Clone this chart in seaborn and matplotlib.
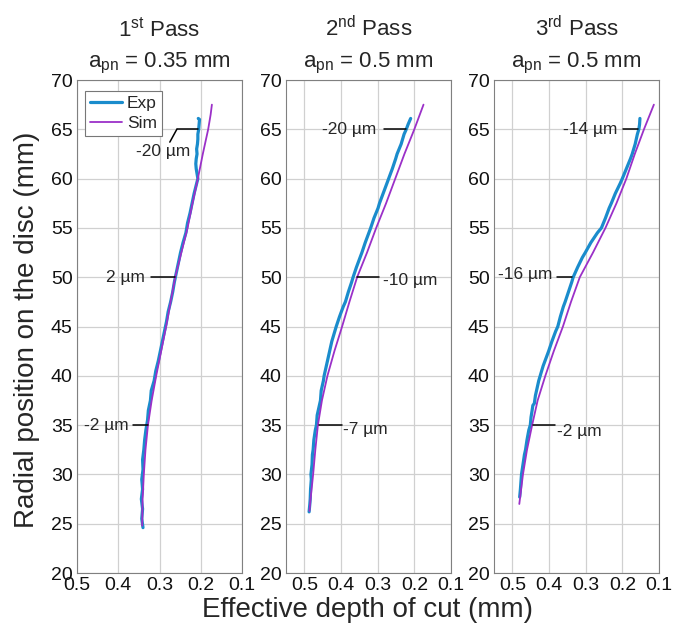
"""Effective depth of cut vs radial position, three passes (Exp vs Sim)."""
import matplotlib
matplotlib.use("Agg")
import matplotlib.pyplot as plt
import pandas as pd
import seaborn as sns

# ---- data ------------------------------------------------------------------
pass_titles = ["1$^{\\mathrm{st}}$ Pass", "2$^{\\mathrm{nd}}$ Pass", "3$^{\\mathrm{rd}}$ Pass"]
pass_depths = ["0.35 mm", "0.5 mm", "0.5 mm"]

# pass 1
exp1_y = [24.6, 25.5, 26.5, 27.5, 28.5, 29.5, 30.5, 31.5, 32.5, 33.5, 34.5, 35.5,
          36.5, 37.5, 38.5, 39.5, 40.5, 41.5, 42.5, 43.5, 44.5, 45.5, 46.5, 47.5,
          48.5, 49.5, 50.5, 51.5, 52.5, 53.5, 54.5, 55.5, 56.5, 57.5, 58.5, 59.5,
          60.0, 60.5, 61.0, 61.5, 62.0, 62.5, 63.0, 63.5, 64.0, 64.5, 65.0, 65.5,
          66.0, 66.1]
exp1_x = [0.340, 0.343, 0.341, 0.344, 0.341, 0.343, 0.340, 0.341, 0.338, 0.336, 0.333, 0.329,
          0.327, 0.322, 0.320, 0.313, 0.309, 0.303, 0.298, 0.293, 0.288, 0.283, 0.279, 0.273,
          0.268, 0.264, 0.259, 0.254, 0.249, 0.243, 0.236, 0.232, 0.226, 0.221, 0.216, 0.210,
          0.207, 0.209, 0.211, 0.212, 0.211, 0.209, 0.210, 0.208, 0.207, 0.207, 0.205, 0.204,
          0.203, 0.206]
sim1_y = [24.8, 27.5, 30, 32.5, 35, 37.5, 40, 42.5, 45, 47.5, 50, 52.5, 55, 57.5,
          60, 62.5, 65, 66.5, 67.5]
sim1_x = [0.342, 0.341, 0.338, 0.334, 0.328, 0.319, 0.308, 0.296, 0.284, 0.273,
          0.262, 0.247, 0.232, 0.220, 0.207, 0.195, 0.182, 0.176, 0.173]

# pass 2
exp2_y = [26.2, 27.0, 27.5, 28.5, 29.5, 30.0, 31.0, 32.0, 32.5, 33.5, 34.5, 35.0,
          36.0, 37.0, 37.5, 38.5, 39.5, 40.0, 41.0, 42.0, 42.5, 43.5, 44.5, 45.0,
          46.0, 47.0, 47.5, 48.5, 49.5, 50.0, 51.0, 52.0, 52.5, 53.5, 54.5, 55.0,
          56.0, 57.0, 57.5, 58.5, 59.5, 60.0, 61.0, 62.0, 62.5, 63.5, 64.5, 65.0,
          65.5, 66.1]
exp2_x = [0.487, 0.485, 0.484, 0.483, 0.481, 0.482, 0.479, 0.478, 0.476, 0.474, 0.470, 0.467,
          0.465, 0.459, 0.456, 0.454, 0.448, 0.446, 0.440, 0.434, 0.431, 0.425, 0.417, 0.413,
          0.404, 0.394, 0.388, 0.380, 0.371, 0.367, 0.358, 0.348, 0.343, 0.334, 0.324, 0.319,
          0.310, 0.299, 0.295, 0.285, 0.275, 0.270, 0.260, 0.251, 0.247, 0.236, 0.228, 0.222,
          0.217, 0.210]
sim2_y = [26.3, 27.5, 30, 32.5, 35, 37.5, 40, 42.5, 45, 47.5, 50, 52.5, 55, 57.5,
          60, 62.5, 65, 67.5]
sim2_x = [0.486, 0.483, 0.476, 0.470, 0.463, 0.452, 0.437, 0.418, 0.397, 0.377,
          0.356, 0.329, 0.304, 0.277, 0.252, 0.227, 0.200, 0.175]

# pass 3
exp3_y = [27.7, 28.5, 29.5, 30.0, 31.0, 32.0, 32.5, 33.5, 34.5, 35.0, 35.8, 36.5,
          37.0, 37.2, 38.0, 38.5, 39.5, 40.0, 41.0, 42.0, 42.5, 43.5, 44.5, 45.0,
          46.0, 47.0, 47.5, 48.5, 49.5, 50.0, 51.0, 52.0, 52.5, 53.5, 54.5, 55.0,
          56.0, 57.0, 57.5, 58.5, 59.5, 60.0, 61.0, 62.0, 62.5, 63.5, 64.5, 65.0,
          65.5, 66.1]
exp3_x = [0.480, 0.478, 0.476, 0.475, 0.471, 0.467, 0.464, 0.460, 0.455, 0.451, 0.449, 0.446,
          0.444, 0.440, 0.437, 0.434, 0.428, 0.424, 0.416, 0.406, 0.401, 0.392, 0.382, 0.376,
          0.369, 0.361, 0.356, 0.347, 0.338, 0.334, 0.322, 0.309, 0.301, 0.286, 0.268, 0.257,
          0.246, 0.236, 0.230, 0.219, 0.206, 0.200, 0.189, 0.178, 0.173, 0.165, 0.159, 0.155,
          0.153, 0.152]
sim3_y = [27.0, 30, 32.5, 35, 37.5, 40, 42.5, 45, 47.5, 50, 52.5, 55, 57.5,
          60, 62.5, 65, 67.5]
sim3_x = [0.481, 0.471, 0.460, 0.446, 0.431, 0.410, 0.387, 0.362, 0.340, 0.316,
          0.280, 0.246, 0.216, 0.189, 0.166, 0.141, 0.114]

# annotations: label, y level, line x start/end, text x, text alignment
ann_labels = [["-20 µm", "2 µm", "-2 µm"],
              ["-20 µm", "-10 µm", "-7 µm"],
              ["-14 µm", "-16 µm", "-2 µm"]]
ann_y = [[65, 50, 35], [65, 50, 35], [65, 50, 35]]
ann_x0 = [[0.258, 0.321, 0.364], [0.282, 0.356, 0.459], [0.197, 0.377, 0.445]]
ann_x1 = [[0.207, 0.262, 0.328], [0.222, 0.296, 0.396], [0.156, 0.336, 0.385]]
ann_tx = [[0.291, 0.335, 0.376], [0.304, 0.285, 0.394], [0.213, 0.391, 0.377]]
ann_ty = [[62.7, 50, 35], [65, 49.7, 34.6], [65, 50.3, 34.4]]
ann_ha = [["center", "right", "right"], ["right", "left", "left"], ["right", "right", "left"]]

exp_data = [(exp1_x, exp1_y), (exp2_x, exp2_y), (exp3_x, exp3_y)]
sim_data = [(sim1_x, sim1_y), (sim2_x, sim2_y), (sim3_x, sim3_y)]
x_left = [0.5, 0.55, 0.55]

# ---- styling ---------------------------------------------------------------
sns.set_theme(style="white")
plt.rcParams["font.family"] = ["Liberation Sans", "DejaVu Sans"]
plt.rcParams["mathtext.fontset"] = "custom"
plt.rcParams["mathtext.rm"] = "Liberation Sans"
plt.rcParams["mathtext.it"] = "Liberation Sans:italic"

EXP_COLOR = "#1a8ccc"
SIM_COLOR = "#9b30c8"

fig = plt.figure(figsize=(6.85, 6.31), dpi=100)
lefts = [77 / 685, 286 / 685, 494 / 685]
axes = [fig.add_axes([l, 58 / 631, 165 / 685, 493 / 631]) for l in lefts]

for i, ax in enumerate(axes):
    ex, ey = exp_data[i]
    sx, sy = sim_data[i]
    df_exp = pd.DataFrame({"depth": ex, "radius": ey})
    df_sim = pd.DataFrame({"depth": sx, "radius": sy})
    sns.lineplot(data=df_exp, x="depth", y="radius", sort=False, estimator=None,
                 color=EXP_COLOR, lw=2.3, ax=ax, label="Exp", zorder=3)
    sns.lineplot(data=df_sim, x="depth", y="radius", sort=False, estimator=None,
                 color=SIM_COLOR, lw=1.3, ax=ax, label="Sim", zorder=4)

    ax.set_xlim(x_left[i], 0.1)
    ax.set_ylim(20, 70)
    ax.set_xticks([0.5, 0.4, 0.3, 0.2, 0.1])
    ax.set_xticklabels(["0.5", "0.4", "0.3", "0.2", "0.1"])
    ax.set_yticks(range(20, 71, 5))
    ax.tick_params(length=0, labelsize=14, pad=3, colors="#111111")
    ax.grid(True, color="#d0d0d0", lw=0.9)
    for s in ax.spines.values():
        s.set_color("#808080")
        s.set_linewidth(0.8)
    ax.set_xlabel("")
    ax.set_ylabel("")

    # annotations with leader lines
    for lab, y, x0, x1, tx, ty, ha in zip(ann_labels[i], ann_y[i], ann_x0[i], ann_x1[i],
                                         ann_tx[i], ann_ty[i], ann_ha[i]):
        ax.plot([x0, x1], [y, y], color="black", lw=1.1, zorder=5)
        ax.text(tx, ty, lab, ha=ha, va="center", fontsize=12.5, zorder=6)
    if i == 0:
        # kinked leader for the top label of pass 1
        ax.plot([0.258, 0.275], [65, 63.7], color="black", lw=1.1, zorder=5)

    # two-line titles
    ax.text(0.5, 1.089, pass_titles[i], transform=ax.transAxes, ha="center",
            va="baseline", fontsize=16)
    ax.text(0.5, 1.026, "a$_{\\mathrm{pn}}$ = " + pass_depths[i], transform=ax.transAxes,
            ha="center", va="baseline", fontsize=16)

    if i == 0:
        leg = ax.legend(loc="upper left", bbox_to_anchor=(0.05, 0.978), fontsize=12.5,
                        handlelength=1.8, handletextpad=0.3, borderpad=0.3,
                        labelspacing=0.25, fancybox=False, framealpha=1,
                        borderaxespad=0)
        leg.get_frame().set_edgecolor("#777777")
        leg.get_frame().set_linewidth(0.8)
    else:
        ax.get_legend().remove()

fig.text(368 / 685, 1 - 610 / 631, "Effective depth of cut (mm)", ha="center",
         va="center", fontsize=20)
fig.text(27 / 685, 1 - 330 / 631, "Radial position on the disc (mm)", ha="center",
         va="center", rotation=90, fontsize=20)

fig.savefig("out.png", dpi=100)
